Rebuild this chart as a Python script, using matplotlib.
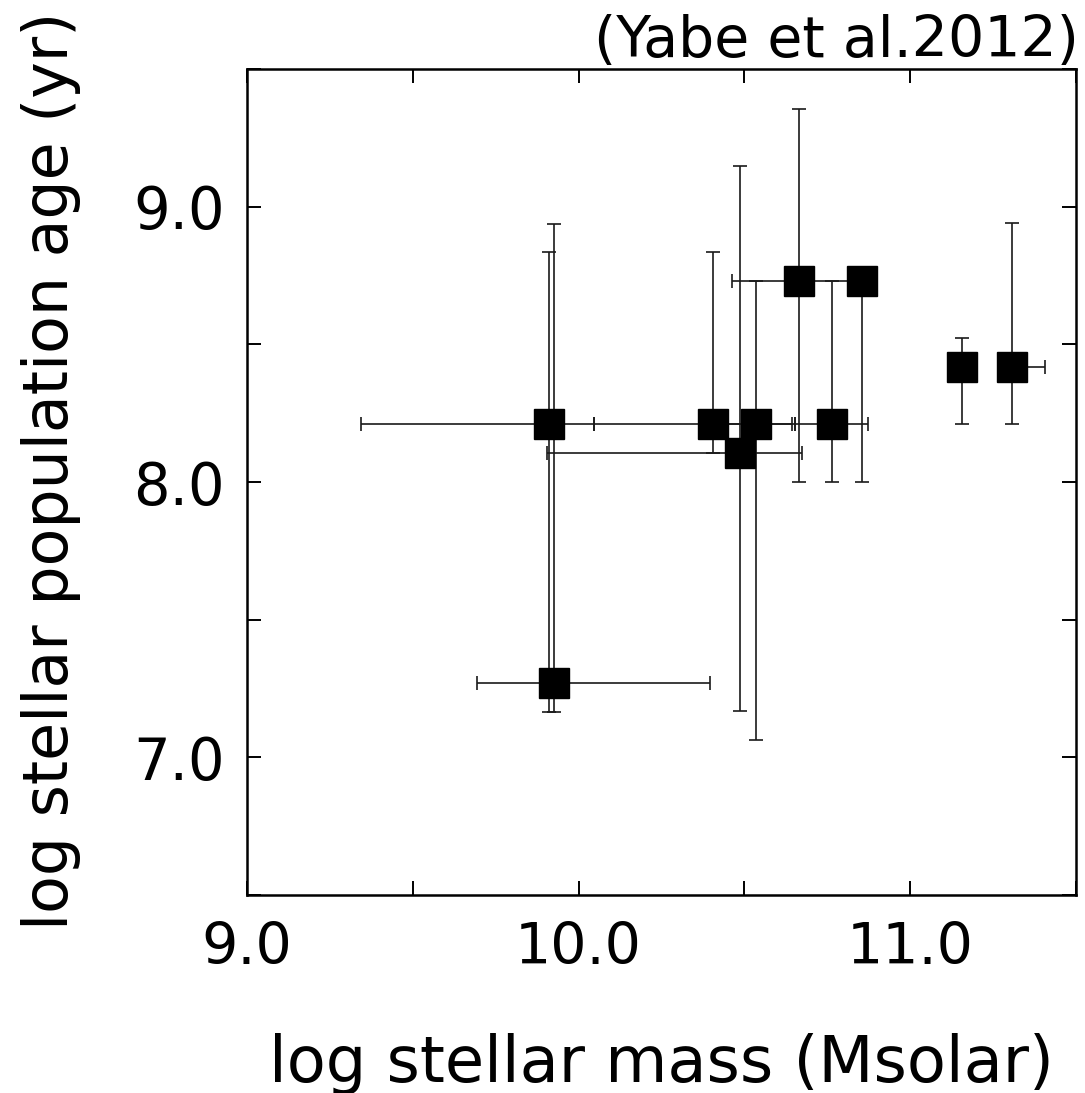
import matplotlib
matplotlib.use("Agg")
import matplotlib.pyplot as plt
import numpy as np

plt.rcParams['font.family'] = ['DejaVu Sans']

# Data (log stellar mass, log age) with asymmetric error bar ends
mass = [9.912, 9.925, 10.404, 10.535, 10.764, 10.486, 10.665, 10.855, 11.156, 11.307]
age = [8.212, 7.270, 8.210, 8.210, 8.210, 8.106, 8.730, 8.730, 8.418, 8.418]
mass_lo = [9.343, 9.693, 10.045, 10.440, 10.653, 9.904, 10.464, 10.855, 11.156, 11.290]
mass_hi = [10.045, 10.395, 10.644, 10.653, 10.874, 10.675, 10.830, 10.855, 11.156, 11.406]
age_lo = [7.166, 7.166, 8.106, 7.062, 8.000, 7.168, 8.000, 8.000, 8.211, 8.211]
age_hi = [8.836, 8.938, 8.835, 8.731, 8.731, 9.149, 9.356, 8.730, 8.523, 8.940]

x_ticks = [9.0, 9.5, 10.0, 10.5, 11.0, 11.5]
x_tick_labels = ['9.0', '', '10.0', '', '11.0', '']
y_ticks = [6.5, 7.0, 7.5, 8.0, 8.5, 9.0, 9.5]
y_tick_labels = ['', '7.0', '', '8.0', '', '9.0', '']

fig = plt.figure(figsize=(10.85, 10.93), dpi=100)
ax = fig.add_axes([247/1085, 1 - 895/1093, (1076-247)/1085, (895-69)/1093])

x = np.array(mass); y = np.array(age)
xerr = np.vstack([x - np.array(mass_lo), np.array(mass_hi) - x])
yerr = np.vstack([y - np.array(age_lo), np.array(age_hi) - y])

ax.errorbar(x, y, xerr=xerr, yerr=yerr, fmt='s', color='black', ms=21,
            ecolor='#1a1a1a', elinewidth=1.2, capsize=4.7, capthick=1.2, zorder=3)

ax.set_xlim(9.0, 11.5)
ax.set_ylim(6.5, 9.5)
ax.set_xticks(x_ticks)
ax.set_xticklabels(x_tick_labels)
ax.set_yticks(y_ticks)
ax.set_yticklabels(y_tick_labels)

ax.tick_params(direction='in', top=True, right=True, length=10, width=1.4)
ax.tick_params(axis='x', pad=19, labelsize=41)
ax.tick_params(axis='y', pad=16, labelsize=41.5)
for s in ax.spines.values():
    s.set_linewidth(1.8)

ax.set_xlabel('log stellar mass (Msolar)', fontsize=46)
ax.xaxis.label.set_verticalalignment('baseline')
ax.xaxis.set_label_coords(0.5, (895 - 1082) / 826)
ax.set_ylabel('log stellar population age (yr)', fontsize=44.5)
ax.yaxis.label.set_verticalalignment('baseline')
ax.yaxis.set_label_coords((68 - 247) / 829, (895 - 470.5) / 826)

ax.text((1079 - 247) / 829, (895 - 57) / 826, '(Yabe et al.2012)',
        transform=ax.transAxes, ha='right', va='baseline', fontsize=41)

fig.savefig('out.png', dpi=100)
